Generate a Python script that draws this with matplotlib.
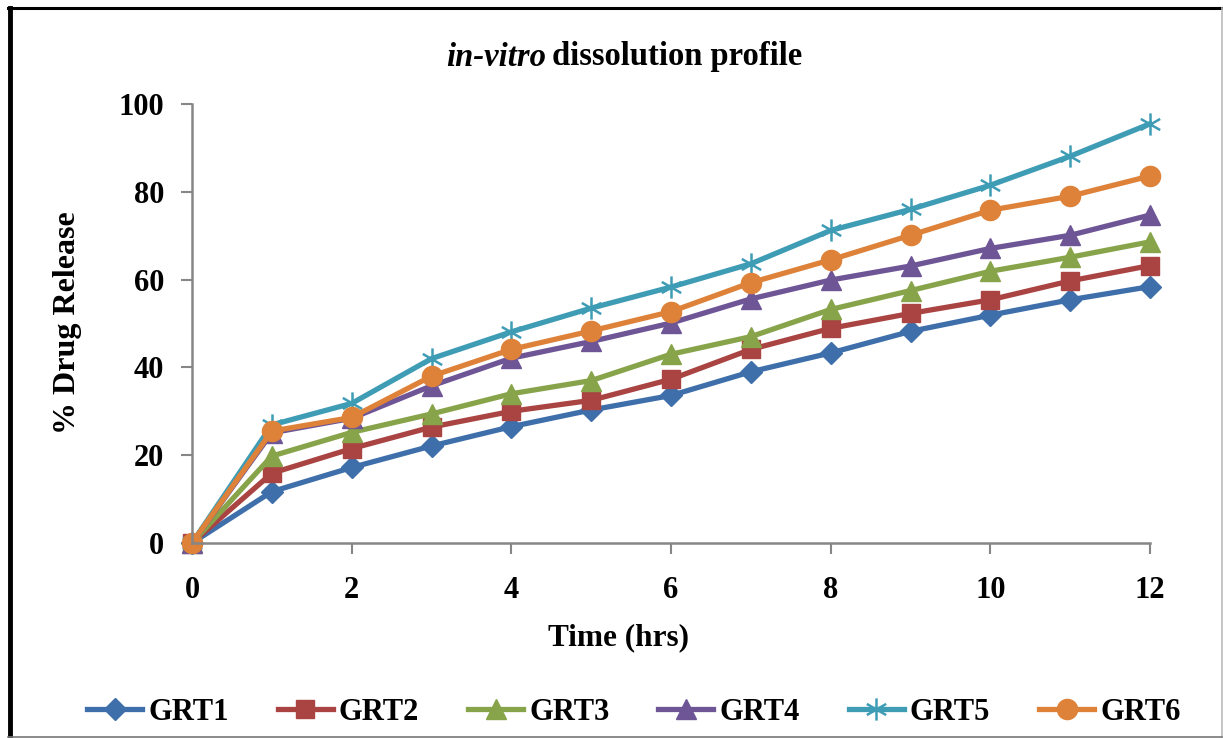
import numpy as np
import matplotlib.pyplot as plt
from matplotlib.path import Path
from matplotlib.lines import Line2D

time_hrs = [0, 1, 2, 3, 4, 5, 6, 7, 8, 9, 10, 11, 12]
grt1 = [0, 11.7, 17.2, 22.1, 26.5, 30.3, 33.6, 39.0, 43.3, 48.2, 51.9, 55.4, 58.4]
grt2 = [0, 15.9, 21.5, 26.4, 30.0, 32.5, 37.3, 44.1, 48.9, 52.3, 55.4, 59.7, 63.2]
grt3 = [0, 19.8, 25.2, 29.4, 34.0, 37.0, 43.0, 47.0, 53.2, 57.5, 61.9, 65.1, 68.6]
grt4 = [0, 25.1, 28.4, 35.8, 42.1, 45.9, 50.1, 55.6, 59.9, 63.1, 67.1, 70.1, 74.7]
grt5 = [0, 26.9, 31.8, 42.0, 48.1, 53.5, 58.3, 63.6, 71.2, 76.0, 81.5, 88.1, 95.5]
grt6 = [0, 25.5, 28.6, 38.0, 44.1, 48.3, 52.7, 59.3, 64.5, 70.1, 75.8, 79.0, 83.6]

# excel-style asterisk: x plus a vertical stroke
star = Path([(0, -1), (0, 1), (-0.87, -0.5), (0.87, 0.5), (-0.87, 0.5), (0.87, -0.5)],
            [Path.MOVETO, Path.LINETO, Path.MOVETO, Path.LINETO, Path.MOVETO, Path.LINETO])

series = [
    ('GRT1', grt1, '#3F6FAA', 'D', 11.5),
    ('GRT2', grt2, '#A94442', 's', 12.5),
    ('GRT3', grt3, '#88A44A', '^', 14),
    ('GRT4', grt4, '#6E5596', '^', 14),
    ('GRT5', grt5, '#3F9CB5', star, 16),
    ('GRT6', grt6, '#DE8239', 'o', 14.5),
]

plt.rcParams['font.family'] = ['Liberation Serif', 'DejaVu Serif']
plt.rcParams['font.weight'] = 'bold'

W, H = 1223, 738
fig = plt.figure(figsize=(W / 100, H / 100), dpi=100)
ax = fig.add_axes([192 / W, 1 - 543 / H, (1150 - 192) / W, (543 - 104) / H])

for name, vals, col, mk, ms in series:
    if isinstance(mk, Path):
        ax.plot(time_hrs, vals, color=col, linewidth=3.8, marker=mk, markersize=ms,
                markeredgewidth=1.8, label=name, clip_on=False)
    else:
        ax.plot(time_hrs, vals, color=col, linewidth=3.8, marker=mk, markersize=ms,
                markeredgecolor=col, label=name, clip_on=False)

ax.set_xlim(0, 12)
ax.set_ylim(0, 100)
ax.set_xticks(np.arange(0, 13, 2))
ax.set_yticks(np.arange(0, 101, 20))
for s in ['top', 'right']:
    ax.spines[s].set_visible(False)
for s in ['left', 'bottom']:
    ax.spines[s].set_color('#868686')
    ax.spines[s].set_linewidth(1.8)
ax.tick_params(axis='both', colors='#868686', length=8, width=1.5, labelsize=22,
               labelcolor='black', direction='out')
ax.tick_params(axis='y', pad=12)
ax.tick_params(axis='x', pad=16)
for lbl in ax.get_xticklabels() + ax.get_yticklabels():
    lbl.set_fontweight('bold')

fig.text(619 / W, 1 - 638 / H, 'Time (hrs)', fontsize=22.5, fontweight='bold',
         ha='center', va='center')
fig.text(68 / W, 1 - 323 / H, '% Drug Release', fontsize=23, fontweight='bold',
         ha='center', va='center', rotation=90)

fig.text(546 / W, 1 - 57 / H, 'in-vitro', fontsize=23.5, fontweight='bold',
         fontstyle='italic', ha='right', va='center')
fig.text(552 / W, 1 - 57 / H, 'dissolution profile', fontsize=23.5,
         fontweight='bold', ha='left', va='center')

handles, labels = ax.get_legend_handles_labels()
leg = fig.legend(handles, labels, loc='center', bbox_to_anchor=(634 / W, 1 - 712 / H),
                 ncol=6, frameon=False, handlelength=1.8,
                 columnspacing=1.6, handletextpad=0.2, prop={'weight': 'bold', 'size': 22})

# figure frame: dark top/left, light bottom/right
fig.add_artist(Line2D([10 / W, 10 / W], [1 - 737 / H, 1 - 8 / H], color='black',
                      linewidth=3.5, transform=fig.transFigure))
fig.add_artist(Line2D([8 / W, 1222 / W], [1 - 8 / H, 1 - 8 / H], color='black',
                      linewidth=2.2, transform=fig.transFigure))
fig.add_artist(Line2D([1221.5 / W, 1221.5 / W], [1 - 737 / H, 1 - 8 / H], color='#BBBBBB',
                      linewidth=1.2, transform=fig.transFigure))
fig.add_artist(Line2D([8 / W, 1222 / W], [1 - 736.5 / H, 1 - 736.5 / H], color='#777777',
                      linewidth=1.2, transform=fig.transFigure))

fig.savefig('out.png', dpi=100)
